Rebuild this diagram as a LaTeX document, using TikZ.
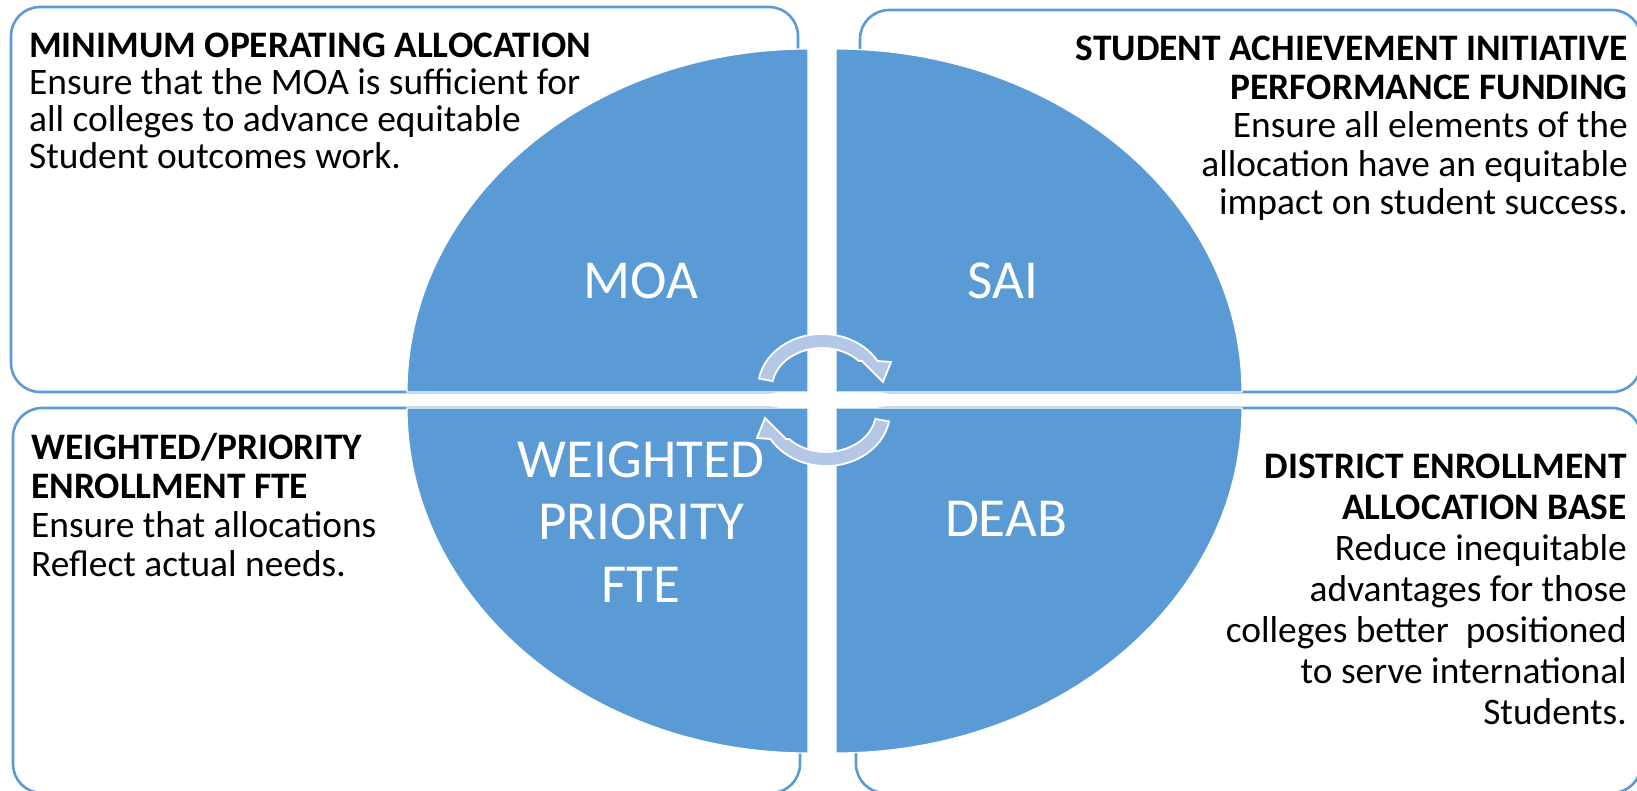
\documentclass[tikz,border=0pt]{standalone}
\usepackage{fontspec}
\setmainfont{Carlito}
\definecolor{qblue}{HTML}{5B9BD5}
\definecolor{arrowfill}{HTML}{B4C7E7}
\begin{document}
\begin{tikzpicture}[x=1pt,y=1pt,yscale=-1,
  box/.style={draw=qblue, line width=2.6pt, fill=white, rounded corners=29pt},
  quarter/.style={fill=qblue, draw=white, line width=1.2pt},
  cyc/.style={fill=arrowfill, draw=white, line width=1.8pt, line join=miter},
  bodyL/.style={font=\fontsize{37.4}{41}\selectfont, inner sep=0pt, anchor=base west},
  bodyR/.style={font=\fontsize{37.4}{41}\selectfont, inner sep=0pt, anchor=base east},
  titleL/.style={bodyL, font=\fontsize{37.4}{41}\selectfont\bfseries},
  titleR/.style={bodyR, font=\fontsize{37.4}{41}\selectfont\bfseries},
  lbl/.style={font=\fontsize{55}{62}\selectfont, text=white, inner sep=0pt, anchor=base}]
\useasboundingbox (0,0) rectangle (1637,791);
\fill[white] (0,0) rectangle (1637,791);
% corner boxes
\draw[box] (11,7) rectangle (798,392);
\draw[box] (860,10) rectangle (1641,392);
\draw[box] (13,408) rectangle (800,793);
\draw[box] (856,408) rectangle (1641,793);
% quarter ellipses
\draw[quarter] (808,392) -- (407,392) arc[start angle=180, end angle=270, x radius=401, y radius=343] -- cycle;
\draw[quarter] (836,392) -- (1242,392) arc[start angle=0, end angle=-90, x radius=406, y radius=343] -- cycle;
\draw[quarter] (808,408) -- (407,408) arc[start angle=180, end angle=90, x radius=401, y radius=345] -- cycle;
\draw[quarter] (836,408) -- (1242,408) arc[start angle=0, end angle=90, x radius=406, y radius=345] -- cycle;
% cycle arrows
\draw[cyc] (759.0,378.6) arc[start angle=190, end angle=330, x radius=64, y radius=54]
  -- (891,362) -- (883,382) -- (862,361) -- (858.9,361)
  arc[start angle=317.5, end angle=190, x radius=50, y radius=40] -- cycle;
\begin{scope}[rotate around={180:(824,400)}]
\draw[cyc] (759.0,378.6) arc[start angle=190, end angle=330, x radius=64, y radius=54]
  -- (891,362) -- (883,382) -- (862,361) -- (858.9,361)
  arc[start angle=317.5, end angle=190, x radius=50, y radius=40] -- cycle;
\end{scope}
% centre labels
\node[lbl] (moa) at (641,299) {MOA};
\node[lbl] (sai) at (1003,299) {SAI};
\node[lbl] (deab) at (1006,536) {DEAB};
\node[lbl] (wp1) at (641,477) {WEIGHTED};
\node[lbl] (wp2) at (641,539) {PRIORITY};
\node[lbl] (wp3) at (641,602) {FTE};
% top-left text
\node[titleL] (tl0) at (29,58) {MINIMUM OPERATING ALLOCATION};
\node[bodyL] (tl1) at (29,95) {Ensure that the MOA is sufficient for};
\node[bodyL] (tl2) at (29,132) {all colleges to advance equitable};
\node[bodyL] (tl3) at (29,169) {Student outcomes work.};
% top-right text
\node[titleR] (tr0) at (1628,61) {STUDENT ACHIEVEMENT INITIATIVE};
\node[titleR] (tr1) at (1628,99.5) {PERFORMANCE FUNDING};
\node[bodyR] (tr2) at (1628,138) {Ensure all elements of the};
\node[bodyR] (tr3) at (1628,176.5) {allocation have an equitable};
\node[bodyR] (tr4) at (1628,215) {impact on student success.};
% bottom-left text
\node[titleL] (bl0) at (31,459) {WEIGHTED/PRIORITY};
\node[titleL] (bl1) at (31,498) {ENROLLMENT FTE};
\node[bodyL] (bl2) at (31,537) {Ensure that allocations};
\node[bodyL] (bl3) at (31,576) {Reflect actual needs.};
% bottom-right text
\node[titleR] (br0) at (1627,478) {DISTRICT ENROLLMENT};
\node[titleR] (br1) at (1627,519) {ALLOCATION BASE};
\node[bodyR] (br2) at (1627,560) {Reduce inequitable};
\node[bodyR] (br3) at (1627,601) {advantages for those};
\node[bodyR] (br4) at (1627,642) {colleges better\ \ positioned};
\node[bodyR] (br5) at (1627,683) {to serve international};
\node[bodyR] (br6) at (1627,724) {Students.};
\end{tikzpicture}
\end{document}
